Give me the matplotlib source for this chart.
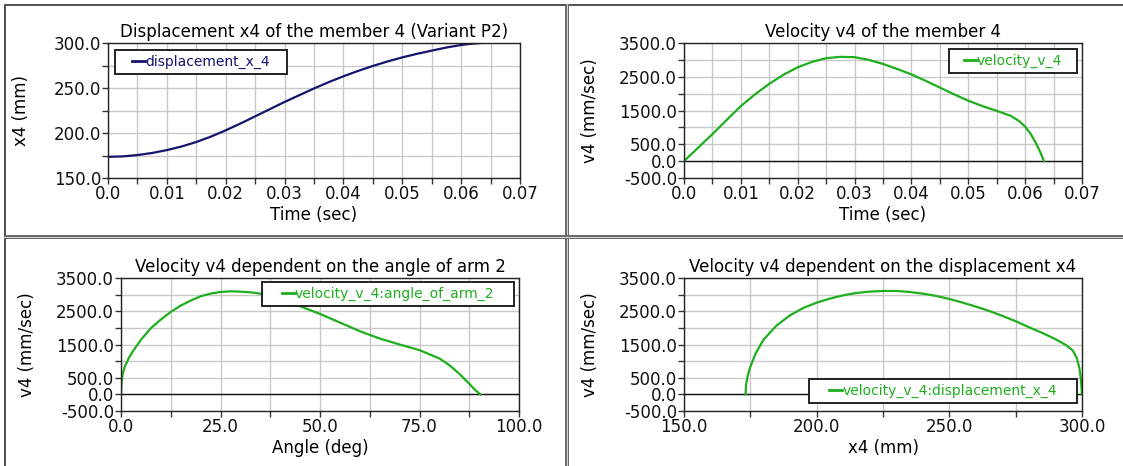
import matplotlib
matplotlib.use("Agg")
import matplotlib.pyplot as plt
from matplotlib.lines import Line2D

# ---------------- data ----------------
time_disp = [0.0, 0.0025, 0.005, 0.0075, 0.01, 0.0125, 0.015, 0.0175, 0.02, 0.0225,
             0.025, 0.0275, 0.03, 0.0325, 0.035, 0.0375, 0.04, 0.0425, 0.045, 0.0475,
             0.05, 0.0525, 0.055, 0.0575, 0.06, 0.0615, 0.0633]
disp_x4 = [173.5, 174.0, 175.5, 177.8, 181.0, 185.0, 190.0, 196.0, 203.0, 210.5,
           218.5, 226.5, 234.5, 242.0, 249.5, 256.5, 263.0, 269.0, 274.5, 279.5,
           284.0, 288.0, 291.5, 295.0, 297.8, 299.0, 300.0]

time_vel = [0.0, 0.0025, 0.005, 0.0075, 0.01, 0.0125, 0.015, 0.0175, 0.02, 0.0225,
            0.025, 0.0275, 0.03, 0.0325, 0.035, 0.0375, 0.04, 0.0425, 0.045, 0.0475,
            0.05, 0.0525, 0.055, 0.0575, 0.059, 0.06, 0.061, 0.062, 0.0627, 0.0633]
vel_v4 = [0, 400, 800, 1220, 1630, 1980, 2290, 2560, 2780, 2940,
          3050, 3090, 3080, 3000, 2880, 2730, 2570, 2380, 2180, 1980,
          1790, 1630, 1490, 1340, 1180, 1020, 800, 500, 250, 0]

angle_arm2 = [0.0, 0.1, 0.4, 1.0, 2.0, 3.0, 5.0, 7.5, 10.0, 12.5, 15.0, 17.5, 20.0,
              22.5, 25.0, 27.5, 30.0, 32.5, 35.0, 40.0, 45.0, 50.0, 55.0, 60.0, 65.0,
              70.0, 75.0, 80.0, 82.5, 85.0, 87.5, 89.0, 90.3]
vel_v4_angle = [0, 300, 600, 850, 1100, 1300, 1640, 1990, 2250, 2480, 2670, 2820, 2950,
                3030, 3080, 3100, 3090, 3070, 3030, 2870, 2650, 2420, 2160, 1900, 1680,
                1500, 1330, 1080, 880, 620, 320, 130, 0]

x4_disp = [173.2, 173.4, 174.0, 175.0, 177.0, 180.0, 185.0, 190.0, 195.0, 200.0, 205.0,
           210.0, 215.0, 220.0, 225.0, 230.0, 235.0, 240.0, 245.0, 250.0, 255.0, 260.0,
           265.0, 270.0, 275.0, 280.0, 285.0, 290.0, 294.0, 296.5, 298.0, 299.0, 299.6, 300.0]
vel_v4_disp = [0, 300, 560, 830, 1230, 1650, 2080, 2380, 2600, 2760, 2880,
               2980, 3050, 3090, 3110, 3110, 3080, 3030, 2960, 2870, 2760, 2640,
               2510, 2360, 2200, 2020, 1850, 1660, 1480, 1320, 1100, 800, 450, 0]

vel_yticks = [-500, 0, 500, 1000, 1500, 2000, 2500, 3000, 3500]
vel_ylabels = ['-500.0', '0.0', '500.0', '', '1500.0', '', '2500.0', '', '3500.0']
time_xticks = [0.0, 0.005, 0.01, 0.015, 0.02, 0.025, 0.03, 0.035, 0.04, 0.045,
               0.05, 0.055, 0.06, 0.065, 0.07]
time_xlabels = ['0.0', '', '0.01', '', '0.02', '', '0.03', '', '0.04', '',
                '0.05', '', '0.06', '', '0.07']
disp_yticks = [150, 175, 200, 225, 250, 275, 300]
disp_ylabels = ['150.0', '', '200.0', '', '250.0', '', '300.0']
angle_xticks = [0, 12.5, 25, 37.5, 50, 62.5, 75, 87.5, 100]
angle_xlabels = ['0.0', '', '25.0', '', '50.0', '', '75.0', '', '100.0']
x4_xticks = [150, 175, 200, 225, 250, 275, 300]
x4_xlabels = ['150.0', '', '200.0', '', '250.0', '', '300.0']

NAVY = '#14146e'
GREEN = '#1eae1e'

# ---------------- figure ----------------
W, H = 1123, 466
plt.rcParams['font.family'] = ['DejaVu Sans']
fig = plt.figure(figsize=(W / 100, H / 100), dpi=100)
fig.patch.set_facecolor('white')


def rect(l, t, r, b):
    return [l / W, 1 - b / H, (r - l) / W, (b - t) / H]


def fx(px):
    return px / W


def fy(py):
    return 1 - py / H


def style(ax, xt, xl, yt, yl, xlim, ylim):
    ax.set_xlim(*xlim)
    ax.set_ylim(*ylim)
    ax.set_xticks(xt, xl)
    ax.set_yticks(yt, yl)
    ax.grid(True, color='#c8c8c8', linewidth=1.0)
    ax.set_axisbelow(True)
    ax.tick_params(direction='out', length=4, width=1, color='#333333',
                   labelsize=12, pad=1, labelcolor='#111111')
    for s in ax.spines.values():
        s.set_color('#222222')
        s.set_linewidth(1.0)


def add_legend(ax, line, label, color, l, t, r, b):
    leg = ax.legend([line], [label], loc='upper left',
                    bbox_to_anchor=(fx(l), fy(b), fx(r) - fx(l), fy(t) - fy(b)),
                    bbox_transform=fig.transFigure, mode='expand', borderaxespad=0,
                    fontsize=10, handlelength=0.95, handletextpad=0.0,
                    borderpad=0.35, fancybox=False, framealpha=1,
                    edgecolor='#222222', alignment='center')
    leg.get_frame().set_linewidth(1.4)
    # keep the entry at its natural width so it sits centred in the box
    leg._legend_handle_box.mode = 'fixed'
    for txt in leg.get_texts():
        txt.set_color(color)
    for h in leg.legend_handles:
        h.set_linewidth(2.0)
    return leg


# Panel 1
ax1 = fig.add_axes(rect(108, 43, 520, 178))
ln1, = ax1.plot(time_disp, disp_x4, color=NAVY, linewidth=1.6)
style(ax1, time_xticks, time_xlabels, disp_yticks, disp_ylabels, (0, 0.07), (150, 300))
ax1.set_title('Displacement x4 of the member 4 (Variant P2)', fontsize=12, pad=4)
ax1.set_xlabel('Time (sec)', fontsize=12, labelpad=2)
ax1.set_ylabel('x4 (mm)', fontsize=12)
add_legend(ax1, ln1, 'displacement_x_4', NAVY, 115, 50, 287, 76)

# Panel 2
ax2 = fig.add_axes(rect(684, 43, 1082, 178))
ax2.axhline(0, color='#111111', linewidth=1.0)
ln2, = ax2.plot(time_vel, vel_v4, color=GREEN, linewidth=1.6)
style(ax2, time_xticks, time_xlabels, vel_yticks, vel_ylabels, (0, 0.07), (-500, 3500))
ax2.set_title('Velocity v4 of the member 4', fontsize=12, pad=4)
ax2.set_xlabel('Time (sec)', fontsize=12, labelpad=2)
ax2.set_ylabel('v4 (mm/sec)', fontsize=12)
add_legend(ax2, ln2, 'velocity_v_4', GREEN, 949, 49, 1077, 76)

# Panel 3
ax3 = fig.add_axes(rect(121, 278, 519, 411))
ax3.axhline(0, color='#111111', linewidth=1.0)
ln3, = ax3.plot(angle_arm2, vel_v4_angle, color=GREEN, linewidth=1.6)
style(ax3, angle_xticks, angle_xlabels, vel_yticks, vel_ylabels, (0, 100), (-500, 3500))
ax3.set_title('Velocity v4 dependent on the angle of arm 2', fontsize=12, pad=4)
ax3.set_xlabel('Angle (deg)', fontsize=12, labelpad=2)
ax3.set_ylabel('v4 (mm/sec)', fontsize=12)
add_legend(ax3, ln3, 'velocity_v_4:angle_of_arm_2', GREEN, 262, 282, 514, 308)

# Panel 4
ax4 = fig.add_axes(rect(684, 278, 1082, 411))
ax4.axhline(0, color='#111111', linewidth=1.0)
ln4, = ax4.plot(x4_disp, vel_v4_disp, color=GREEN, linewidth=1.6)
style(ax4, x4_xticks, x4_xlabels, vel_yticks, vel_ylabels, (150, 300), (-500, 3500))
ax4.set_title('Velocity v4 dependent on the displacement x4', fontsize=12, pad=4)
ax4.set_xlabel('x4 (mm)', fontsize=12, labelpad=2)
ax4.set_ylabel('v4 (mm/sec)', fontsize=12)
add_legend(ax4, ln4, 'velocity_v_4:displacement_x_4', GREEN, 809, 379, 1077, 407)

# y-label horizontal positions
for ax, xpx in [(ax1, 30), (ax2, 599), (ax3, 36), (ax4, 599)]:
    pos = ax.get_position()
    ax.yaxis.set_label_coords(fx(xpx), (pos.y0 + pos.y1) / 2, transform=fig.transFigure)


# panel frames
def fline(x0, y0, x1, y1, lw, color):
    fig.add_artist(Line2D([fx(x0), fx(x1)], [fy(y0), fy(y1)], transform=fig.transFigure,
                          color=color, linewidth=lw * 0.72, solid_capstyle='butt'))


fline(4.5, 4, 4.5, H, 2, '#555555')
fline(4, 4.5, W, 4.5, 2, '#555555')
fline(566.5, 4, 566.5, H, 4, '#6a6a6a')
fline(566.5, 4, 566.5, H, 1, '#d8d8d8')
fline(4, 237, W, 237, 4, '#6a6a6a')
fline(4, 237, W, 237, 1, '#d8d8d8')

fig.savefig('out.png', dpi=100)
